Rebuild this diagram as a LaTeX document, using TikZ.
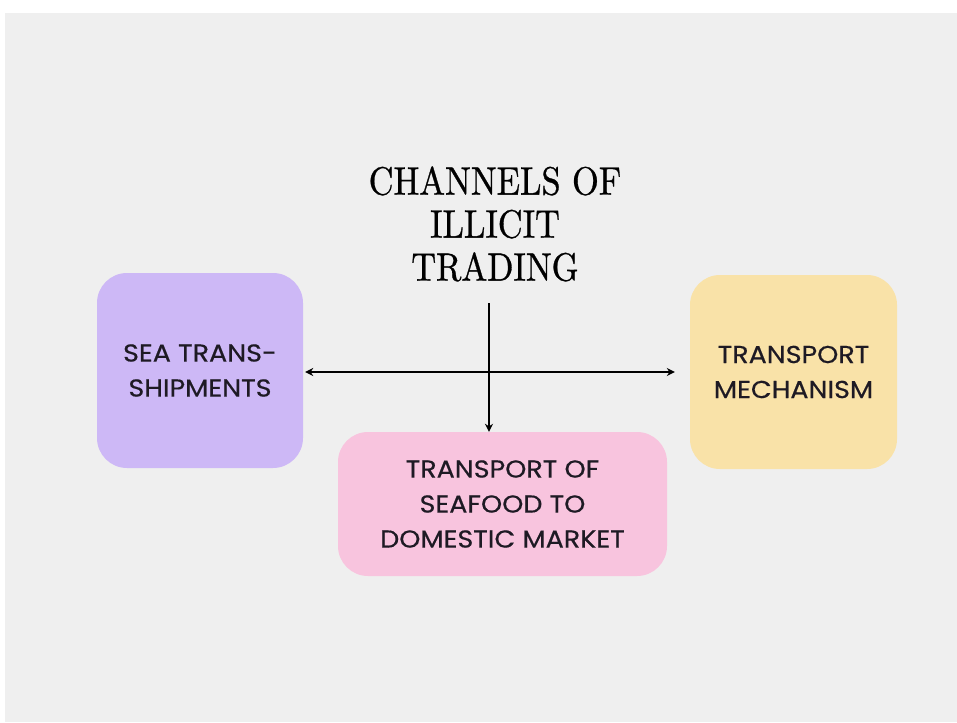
\documentclass[tikz,border=0pt]{standalone}
\usepackage{fontspec}
\newfontfamily\boxfont{Poppins}[FakeBold=0.5,FakeStretch=1.1]
\newfontfamily\titlefont{lmroman10-regular.otf}[FakeBold=0.8]
\usetikzlibrary{arrows.meta}
\definecolor{paper}{HTML}{EFEFEF}
\definecolor{lav}{HTML}{CDB8F6}
\definecolor{sand}{HTML}{F9E2A8}
\definecolor{rose}{HTML}{F8C4DE}
\definecolor{ink}{HTML}{1E1A24}
\tikzset{
  card/.style={rounded corners=30pt, inner sep=0pt, draw=none, align=center,
    text=ink, font=\boxfont\fontsize{24.5}{35}\selectfont},
  link/.style={line width=1.8pt, draw=black, -{Stealth[length=8pt,width=8pt]}}
}
\begin{document}
\begin{tikzpicture}[x=1pt,y=-1pt]
\useasboundingbox (0,0) rectangle (957,722);
\fill[white] (0,0) rectangle (957,722);
\fill[paper] (5,13) rectangle (957,722);
\node[card, fill=lav, minimum width=206pt, minimum height=195pt] (sea) at (200,370.5) {SEA TRANS-\\SHIPMENTS};
\node[card, fill=sand, minimum width=207pt, minimum height=194pt] (mech) at (793.5,372) {TRANSPORT\\MECHANISM};
\node[card, fill=rose, minimum width=329pt, minimum height=144pt] (dom) at (502.5,504) {TRANSPORT OF\\SEAFOOD TO\\DOMESTIC MARKET};
\node[inner sep=0pt] (title) at (495,229) {\scalebox{0.87}[1]{\titlefont\fontsize{39.5}{43}\selectfont\begin{tabular}{@{}c@{}}CHANNELS OF\\ILLICIT\\TRADING\end{tabular}}};
\coordinate (top) at (489,303);
\coordinate (hub) at (489,372);
\draw[link] (top) -- (dom.north -| top);
\draw[link] (hub) -- ([xshift=2pt]sea.east |- hub);
\draw[link] (hub) -- ([xshift=-15pt]mech.west |- hub);
\end{tikzpicture}
\end{document}
